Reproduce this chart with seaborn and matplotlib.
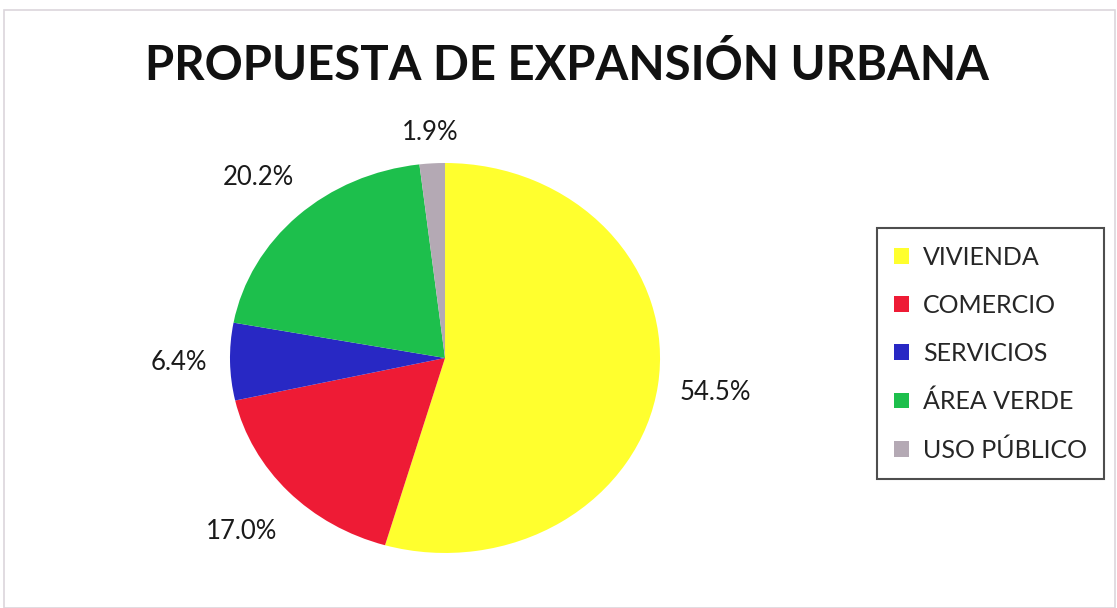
import matplotlib
matplotlib.use("Agg")
import matplotlib.pyplot as plt
import numpy as np
import seaborn as sns
from matplotlib.patches import Rectangle

# Land-use shares of the proposed urban expansion (%)
categories = ["VIVIENDA", "COMERCIO", "SERVICIOS", "ÁREA VERDE", "USO PÚBLICO"]
shares = [54.5, 17.0, 6.4, 20.2, 1.9]
slice_colors = ["#FFFF2E", "#EE1B35", "#2828C4", "#1DBF4C", "#B4A9B4"]
title = "PROPUESTA DE EXPANSIÓN URBANA"

# radial distance of each percentage label from the pie centre
label_radius = [1.27, 1.30, 1.24, 1.27, 1.16]

sns.set_theme(style="white")
plt.rcParams["font.family"] = ["Lato", "DejaVu Sans"]
palette = sns.color_palette(slice_colors)

fig = plt.figure(figsize=(11.17, 6.08), dpi=100)
fig.patch.set_facecolor("white")

# faint outer frame of the chart area
fig.patches.append(Rectangle((0.004, 0.0), 0.994, 0.983, transform=fig.transFigure,
                             fill=False, edgecolor="#dcd6dc", linewidth=1.2))

ax = fig.add_axes([0.2059, 0.0905, 0.385, 0.6414])
wedges, texts, autotexts = ax.pie(
    shares,
    colors=palette,
    startangle=90,
    counterclock=False,
    autopct="%.1f%%",
    pctdistance=1.26,
    wedgeprops=dict(linewidth=0),
    textprops=dict(fontsize=18.5, color="#1a1a1a"),
)
for w, t, r in zip(wedges, autotexts, label_radius):
    mid = np.deg2rad((w.theta1 + w.theta2) / 2)
    t.set_position((r * np.cos(mid), r * np.sin(mid)))
ax.set_aspect("auto")
ax.set_xlim(-1, 1)
ax.set_ylim(-1, 1)
ax.axis("off")

fig.text(0.5076, 0.893, title, ha="center", va="center",
         fontsize=34, fontweight="bold", color="#111111")

leg = fig.legend(
    wedges, categories,
    loc="center", bbox_to_anchor=(0.8867, 0.418),
    frameon=True, fancybox=False, shadow=False,
    fontsize=18, handlelength=0.6, handleheight=0.6, handletextpad=0.55,
    labelspacing=1.0, borderpad=0.7, borderaxespad=0,
)
leg.get_frame().set_edgecolor("#222222")
leg.get_frame().set_linewidth(1.5)

fig.savefig("out.png", dpi=100, facecolor="white")
